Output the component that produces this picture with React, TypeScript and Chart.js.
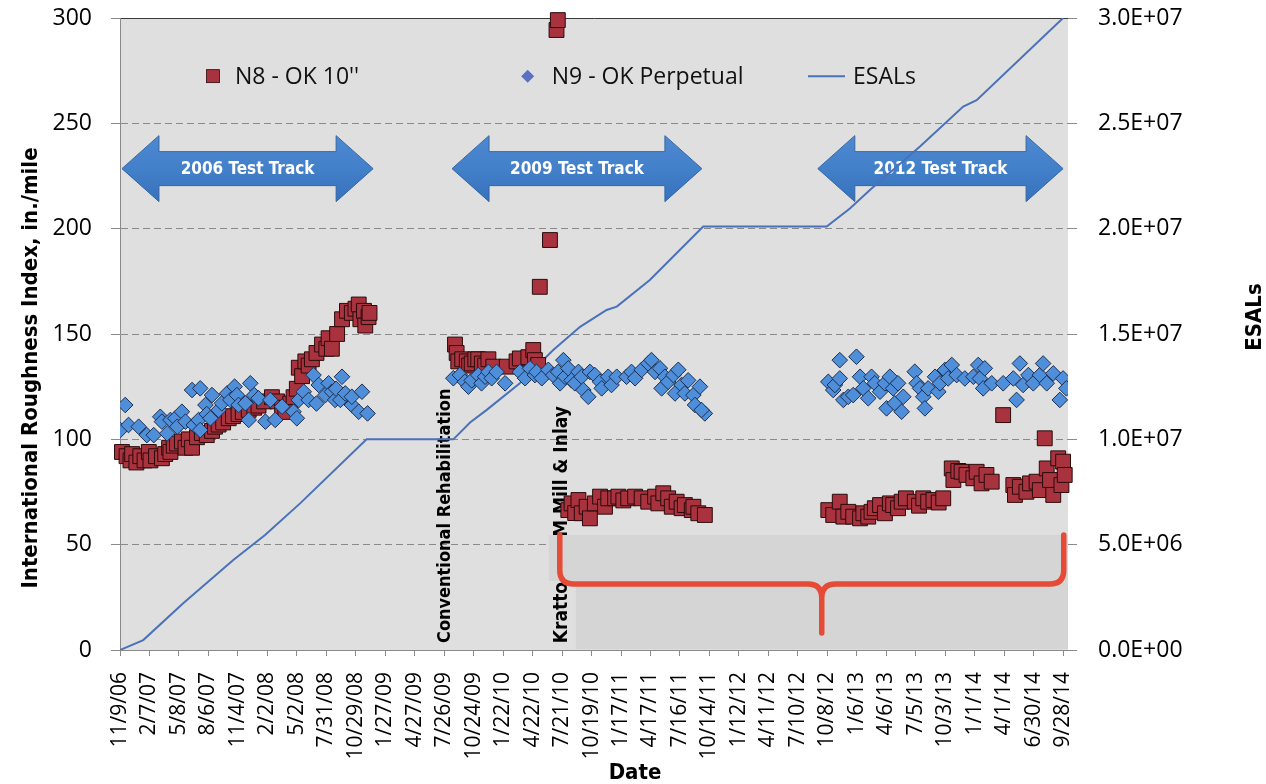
import React, { useEffect, useRef } from 'react';
import { Chart, registerables } from 'chart.js';

Chart.register(...registerables);

// ---------- DATA ----------
// x values are days since 11/9/06 (first axis label)
const xTickLabels = [
  '11/9/06', '2/7/07', '5/8/07', '8/6/07', '11/4/07', '2/2/08', '5/2/08', '7/31/08', '10/29/08',
  '1/27/09', '4/27/09', '7/26/09', '10/24/09', '1/22/10', '4/22/10', '7/21/10', '10/19/10',
  '1/17/11', '4/17/11', '7/16/11', '10/14/11', '1/12/12', '4/11/12', '7/10/12', '10/8/12',
  '1/6/13', '4/6/13', '7/5/13', '10/3/13', '1/1/14', '4/1/14', '6/30/14', '9/28/14',
];
const tickStepDays = 90;
const axisMaxDay = 2895;
const iriTicks = { min: 0, max: 300, step: 50 };
const esalTicks = { min: 0, max: 30000000, step: 5000000 };

const esalDays = [0, 71, 193, 346, 443, 550, 753, 1018, 1069, 1120, 1221, 1323, 1405, 1486, 1517, 1618, 1781, 2158, 2229, 2290, 2443, 2575, 2616, 2880];
const esalValues = [0, 470000, 2220000, 4270000, 5460000, 6960000, 10000000, 10000000, 10800000, 11400000, 12660000, 14240000, 15340000, 16140000, 16300000, 17560000, 20100000, 20100000, 20960000, 21830000, 23900000, 25800000, 26100000, 30000000];

const n8Days = [
  6, 20, 32, 37, 50, 62, 75, 88, 93, 110, 128, 138, 150, 154, 164, 174, 189, 200, 210, 220,
  235, 250, 265, 281, 290, 301, 315, 332, 345, 362, 375, 393, 410, 423, 440, 464, 480, 495, 505, 520,
  530, 540, 546, 556, 566, 576, 586, 600, 617, 630, 637, 647, 663, 678, 693, 708, 719, 729, 734, 745,
  749, 759, 762,
  1023, 1028, 1033, 1045, 1059, 1066, 1074, 1085, 1094, 1105, 1115, 1125, 1140, 1181, 1211, 1221,
  1247, 1262, 1267, 1277, 1282, 1313, 1333, 1337,
  1369, 1379, 1390, 1400, 1410, 1425, 1435, 1450, 1466, 1481, 1491, 1512, 1522, 1537, 1552, 1573,
  1593, 1613, 1634, 1644, 1659, 1674, 1685, 1700, 1715, 1725, 1746, 1751, 1766, 1786,
  2163, 2178, 2198, 2209, 2224, 2239, 2260, 2270, 2285, 2295, 2305, 2321, 2336, 2351, 2361, 2376,
  2387, 2400, 2427, 2440, 2453, 2468, 2484, 2500, 2514, 2540, 2545, 2560, 2570, 2585, 2606, 2616,
  2631, 2646, 2662, 2697, 2728, 2733, 2748, 2768, 2779, 2799, 2809, 2824, 2830, 2840, 2850, 2865,
  2875, 2880, 2885,
];
const n8Iri = [
  94, 92, 90, 93, 89, 92, 90, 94, 90, 92, 91, 93, 96, 94, 97, 98, 99, 96, 100, 96,
  101, 103, 102, 104, 106, 107, 108, 110, 111, 112, 113, 114, 115, 116, 118, 120, 118, 115, 113, 117,
  120, 124, 134, 130, 137, 135, 138, 141, 145, 143, 148, 143, 150, 157, 161, 160, 162, 164, 157, 161,
  154, 158, 160,
  145, 141, 137, 138, 137, 135, 136, 138, 138, 136, 135, 138, 134.5, 134.5, 137, 138.4,
  139, 142.4, 137.6, 135.3, 172.4, 194.6, 294.3, 299,
  66.4, 69.6, 65, 71.2, 64.9, 68, 62.5, 69.6, 72.8, 68, 72, 72, 72.8, 71, 72, 72.8,
  72, 70.4, 72.8, 69.6, 74.4, 72, 68, 70.4, 67.3, 68.8, 66.4, 68, 64.9, 64.1,
  66.4, 64.1, 70.4, 63.3, 65.6, 63.3, 62.5, 64.9, 63.3, 65.6, 67.3, 68.8, 64.9, 69.6, 68.8, 67.3,
  70.4, 72, 70.4, 68.5, 72, 70.4, 71.2, 70, 72, 86.2, 80.7, 85, 84.6, 83.1, 81.5, 84.6,
  79.1, 83.1, 79.9, 111.5, 78.3, 73.6, 77.5, 75.1, 79.1, 79.9, 75.9, 100.5, 86.2, 80.7, 73.6, 91,
  78.3, 89.4, 83.1,
];

const n9Days = [
  1, 16, 26, 57, 82, 103, 123, 128, 144, 154, 169, 175, 189, 200, 220, 225, 240, 245, 245, 261,
  265, 276, 281, 301, 311, 327, 337, 350, 357, 362, 383, 393, 398, 410, 423, 444, 459, 474, 495, 530,
  540, 546, 561, 576, 591, 600, 607, 627, 637, 647, 657, 660, 673, 678, 688, 708, 708, 729, 739, 756,
  1018, 1038, 1053, 1064, 1074, 1094, 1104, 1115, 1125, 1135, 1150, 1176, 1221, 1237, 1252, 1267,
  1272, 1288, 1308, 1323, 1338, 1354, 1344, 1359, 1369, 1379, 1389, 1400, 1410, 1415, 1430, 1435,
  1450, 1466, 1471, 1491, 1501, 1517, 1547, 1562, 1573, 1593, 1613, 1623, 1634, 1649, 1654, 1664,
  1674, 1690, 1695, 1705, 1715, 1725, 1735, 1751, 1771, 1756, 1786, 1776,
  2163, 2178, 2183, 2198, 2198, 2209, 2224, 2239, 2249, 2260, 2270, 2285, 2295, 2305, 2321, 2336,
  2341, 2351, 2361, 2366, 2376, 2387, 2392, 2427, 2433, 2443, 2453, 2458, 2468, 2489, 2499, 2504,
  2519, 2529, 2540, 2555, 2580, 2606, 2621, 2626, 2636, 2641, 2662, 2697, 2728, 2738, 2748, 2758,
  2774, 2789, 2809, 2819, 2830, 2850, 2870, 2880, 2890,
];
const n9Iri = [
  104.4, 116.3, 106.8, 106, 102, 102, 110.7, 108.4, 102.8, 109.2, 110, 106, 113.1, 108.4, 123.4, 106.8, 109.2, 124.2, 104.4, 116.3,
  112, 110, 121, 113.9, 117.1, 121.8, 118.7, 125, 121, 116.3, 117.1, 109.2, 126.6, 121, 119.5, 108.4, 118.7, 109.2, 115.5, 113.1,
  110, 118.7, 122.6, 118.7, 130.5, 117, 125.8, 121, 126.6, 122.6, 118.7, 124, 118.7, 129.7, 121.8, 116.3, 120.2, 113.1, 122.6, 112.3,
  129, 130.5, 127.3, 125, 128, 130.5, 126.6, 129.7, 132, 129, 132, 126.6, 132, 129, 133.7, 130.5,
  132, 129, 133, 130.5, 132, 137.6, 126.6, 129.7, 133.7, 128, 126.6, 132, 129.7, 123.4, 120.2, 132,
  130.5, 127.3, 124.2, 129.7, 125.8, 129.7, 129.7, 132, 129, 133, 136, 137.6, 132, 133.7, 124.2, 129.7,
  127.3, 130.5, 121.8, 133, 125.8, 121.8, 128, 121, 125, 116.3, 112.3, 113.9,
  127.3, 123.4, 125.8, 137.6, 128.9, 118.7, 120.2, 121, 139.2, 129.7, 124.2, 119.5, 129.7, 126.6, 122.6, 126.6,
  114.7, 129.7, 124.2, 117.1, 126.6, 113.1, 120.2, 132.1, 126.6, 124.2, 120.2, 114.7, 124.2, 129.7, 122.6, 126.6,
  132.9, 128.9, 135.3, 130.5, 128.9, 129.7, 135.3, 128.9, 124.2, 133.7, 126.6, 126.6, 128.9, 118.7, 136, 125.8,
  130.5, 126.6, 130.5, 136, 126.6, 131.3, 118.7, 128.9, 124.2,
];

// annotations (in data units)
const trackArrows = [
  { label: '2006 Test Track', fromDay: 6, toDay: 773 },
  { label: '2009 Test Track', fromDay: 1014, toDay: 1777 },
  { label: '2012 Test Track', fromDay: 2131, toDay: 2880 },
];
const arrowIri = 228.5;
const rehabNote = { label: 'Conventional Rehabilitation', day: 992 };
const inlayNote = { label: 'Kratton HPM Mill & Inlay', day: 1350, visibleStart: 'Kratto', hiddenEnd: 'Kratton HP' };
const bracketDays = { left: 1343, mid: 2143, right: 2882 };
const bracketIri = { top: 54.6, bar: 31.3, tip: 8.1 };

const legendItems = [
  { label: "N8 - OK 10''", kind: 'rect', day: 284 },
  { label: 'N9 - OK Perpetual', kind: 'rectRot', day: 1245 },
  { label: 'ESALs', kind: 'line', day: 2101 },
];
const legendIri = 272.4;

// ---------- STYLE ----------
const RED = '#a8323e';
const RED_EDGE = '#2a0b0b';
const BLUE = '#4f8ed8';
const BLUE_EDGE = '#1d2f52';
const LINE = '#4a72b8';
const GRID = '#8a8a8a';
const AXIS = '#8a8a8a';
const PLOT_BG = '#dfdfdf';
const TICK_FONT = "'Open Sans', 'DejaVu Sans', sans-serif";
const TITLE_FONT = "'Liberation Sans Narrow', 'DejaVu Sans Condensed', 'Liberation Sans', sans-serif";
const NOTE_FONT = `bold 18px ${TITLE_FONT}`;
const INLAY_FONT = `bold 19px ${TITLE_FONT}`;

const toPoints = (days: number[], vals: number[]) => days.map((d, i) => ({ x: d, y: vals[i] }));

const sci = (v: number) => {
  if (v === 0) return '0.0E+00';
  const e = Math.floor(Math.log10(v) + 1e-9);
  const m = v / Math.pow(10, e);
  return `${m.toFixed(1)}E+${String(e).padStart(2, '0')}`;
};

// geometry of the inlay note / gray patch so the hidden part lines up
function inlayGeometry(chart: any) {
  const { ctx, scales } = chart;
  const ys = scales.y;
  const yt = ys.getPixelForValue(bracketIri.top);
  ctx.save();
  ctx.font = INLAY_FONT;
  const wHidden = ctx.measureText(inlayNote.hiddenEnd).width;
  const wVisible = ctx.measureText(inlayNote.visibleStart).width;
  ctx.restore();
  const textBottom = Math.min(yt + wHidden + 2, ys.getPixelForValue(0) - 4);
  const patchStepY = textBottom - wVisible - 1;
  return { yt, textBottom, patchStepY };
}

function drawVerticalText(ctx: any, label: string, x: number, yBottom: number, font: string) {
  ctx.save();
  ctx.translate(x, yBottom);
  ctx.rotate(-Math.PI / 2);
  ctx.fillStyle = '#000';
  ctx.font = font;
  ctx.textAlign = 'left';
  ctx.textBaseline = 'middle';
  ctx.fillText(label, 0, 0);
  ctx.restore();
}

const decorPlugin = {
  id: 'decor',
  beforeDraw(chart: any) {
    const { ctx, chartArea: a } = chart;
    ctx.save();
    ctx.fillStyle = PLOT_BG;
    ctx.fillRect(a.left, a.top, a.right - a.left, a.bottom - a.top);
    ctx.restore();
  },
  beforeDatasetsDraw(chart: any) {
    const { ctx, scales } = chart;
    const xs = scales.x;
    const ys = scales.y;
    // arrows
    const yc = ys.getPixelForValue(arrowIri);
    const headLen = 37, headHalf = 33, shaftHalf = 17;
    trackArrows.forEach((ar) => {
      const x1 = xs.getPixelForValue(ar.fromDay);
      const x2 = xs.getPixelForValue(ar.toDay);
      ctx.save();
      ctx.beginPath();
      ctx.moveTo(x1, yc);
      ctx.lineTo(x1 + headLen, yc - headHalf);
      ctx.lineTo(x1 + headLen, yc - shaftHalf);
      ctx.lineTo(x2 - headLen, yc - shaftHalf);
      ctx.lineTo(x2 - headLen, yc - headHalf);
      ctx.lineTo(x2, yc);
      ctx.lineTo(x2 - headLen, yc + headHalf);
      ctx.lineTo(x2 - headLen, yc + shaftHalf);
      ctx.lineTo(x1 + headLen, yc + shaftHalf);
      ctx.lineTo(x1 + headLen, yc + headHalf);
      ctx.closePath();
      const g = ctx.createLinearGradient(0, yc - headHalf, 0, yc + headHalf);
      g.addColorStop(0, '#4e89d1');
      g.addColorStop(0.5, '#4380ca');
      g.addColorStop(1, '#3771bb');
      ctx.fillStyle = g;
      ctx.fill();
      ctx.strokeStyle = '#3566a6';
      ctx.lineWidth = 1;
      ctx.stroke();
      ctx.fillStyle = '#ffffff';
      ctx.font = `bold 17px ${TITLE_FONT}`;
      ctx.textAlign = 'center';
      ctx.textBaseline = 'middle';
      ctx.fillText(ar.label, (x1 + x2) / 2, yc + 1);
      ctx.restore();
    });
    // vertical notes
    drawVerticalText(ctx, rehabNote.label, xs.getPixelForValue(rehabNote.day), ys.getPixelForValue(0) - 7, NOTE_FONT);
    const g = inlayGeometry(chart);
    drawVerticalText(ctx, inlayNote.label, xs.getPixelForValue(inlayNote.day), g.textBottom, INLAY_FONT);
  },
  afterDatasetsDraw(chart: any) {
    const { ctx, scales, chartArea: a } = chart;
    const xs = scales.x;
    const ys = scales.y;
    const xl = xs.getPixelForValue(bracketDays.left);
    const xm = xs.getPixelForValue(bracketDays.mid);
    const xr = xs.getPixelForValue(bracketDays.right);
    const yb = ys.getPixelForValue(bracketIri.bar);
    const ytip = ys.getPixelForValue(bracketIri.tip);
    const geo = inlayGeometry(chart);
    const yt = geo.yt;
    // gray patch behind the bracket
    ctx.save();
    ctx.fillStyle = '#d5d5d5';
    ctx.beginPath();
    ctx.moveTo(xl - 11, yt);
    ctx.lineTo(a.right, yt);
    ctx.lineTo(a.right, a.bottom - 1);
    ctx.lineTo(xl + 16, a.bottom - 1);
    ctx.lineTo(xl + 16, geo.patchStepY);
    ctx.lineTo(xl - 11, geo.patchStepY);
    ctx.closePath();
    ctx.fill();
    // red curly bracket
    const r = 14;
    ctx.strokeStyle = '#e64b35';
    ctx.lineWidth = 5.5;
    ctx.lineCap = 'round';
    ctx.lineJoin = 'round';
    ctx.beginPath();
    ctx.moveTo(xl, yt);
    ctx.lineTo(xl, yb - r);
    ctx.quadraticCurveTo(xl, yb, xl + r, yb);
    ctx.lineTo(xm - r, yb);
    ctx.quadraticCurveTo(xm, yb, xm, yb + r);
    ctx.lineTo(xm, ytip);
    ctx.moveTo(xm, yb + r);
    ctx.quadraticCurveTo(xm, yb, xm + r, yb);
    ctx.lineTo(xr - r, yb);
    ctx.quadraticCurveTo(xr, yb, xr, yb - r);
    ctx.lineTo(xr, yt);
    ctx.stroke();
    ctx.restore();
  },
  afterDraw(chart: any) {
    const { ctx, scales, chartArea: a, width, height } = chart;
    const xs = scales.x;
    const ys = scales.y;
    // legend
    const ly = ys.getPixelForValue(legendIri);
    ctx.save();
    ctx.font = `23px ${TICK_FONT}`;
    ctx.textBaseline = 'middle';
    ctx.textAlign = 'left';
    legendItems.forEach((it) => {
      const x = xs.getPixelForValue(it.day);
      let tx = x;
      if (it.kind === 'rect') {
        ctx.fillStyle = RED;
        ctx.fillRect(x - 6.5, ly - 6.5, 13, 13);
        ctx.strokeStyle = RED_EDGE;
        ctx.lineWidth = 0.8;
        ctx.strokeRect(x - 6.5, ly - 6.5, 13, 13);
        tx = x + 22;
      } else if (it.kind === 'rectRot') {
        ctx.beginPath();
        ctx.moveTo(x, ly - 6.5);
        ctx.lineTo(x + 6.5, ly);
        ctx.lineTo(x, ly + 6.5);
        ctx.lineTo(x - 6.5, ly);
        ctx.closePath();
        ctx.fillStyle = '#5b6fc4';
        ctx.fill();
        tx = x + 24;
      } else {
        ctx.strokeStyle = LINE;
        ctx.lineWidth = 2;
        ctx.beginPath();
        ctx.moveTo(x, ly);
        ctx.lineTo(x + 37, ly);
        ctx.stroke();
        tx = x + 45;
      }
      ctx.fillStyle = '#111';
      ctx.fillText(it.label, tx, ly + 1);
    });
    ctx.restore();

    // axis titles
    ctx.save();
    ctx.fillStyle = '#000';
    ctx.font = `bold 22px ${TITLE_FONT}`;
    ctx.textAlign = 'center';
    ctx.textBaseline = 'middle';
    ctx.save();
    ctx.translate(a.left - 89, (a.top + a.bottom) / 2 + 34);
    ctx.rotate(-Math.PI / 2);
    ctx.fillText('International Roughness Index, in./mile', 0, 0);
    ctx.restore();
    ctx.save();
    ctx.translate(width - 11, (a.top + a.bottom) / 2 - 17);
    ctx.rotate(-Math.PI / 2);
    ctx.fillText('ESALs', 0, 0);
    ctx.restore();
    ctx.fillText('Date', (a.left + a.right) / 2 + 41, height - 11);
    ctx.restore();
  },
};

const zeroVerticalPadding = (s: any, width: number) => {
  s.width = width;
  s.paddingTop = 0;
  s.paddingBottom = 0;
};

export default function App() {
  const canvasRef = useRef<HTMLCanvasElement | null>(null);

  useEffect(() => {
    if (!canvasRef.current) return;
    Chart.defaults.font.family = TICK_FONT;
    const chart = new Chart(canvasRef.current, {
      type: 'scatter',
      data: {
        datasets: [
          {
            label: "N8 - OK 10''",
            data: toPoints(n8Days, n8Iri),
            pointStyle: 'rect',
            pointRadius: 10.5,
            backgroundColor: RED,
            borderColor: RED_EDGE,
            borderWidth: 1,
            yAxisID: 'y',
            order: 2,
            clip: false,
          } as any,
          {
            label: 'N9 - OK Perpetual',
            data: toPoints(n9Days, n9Iri),
            pointStyle: 'rectRot',
            pointRadius: 7.8,
            backgroundColor: BLUE,
            borderColor: BLUE_EDGE,
            borderWidth: 1,
            yAxisID: 'y',
            order: 1,
          } as any,
          {
            label: 'ESALs',
            data: toPoints(esalDays, esalValues),
            showLine: true,
            pointRadius: 0,
            borderColor: LINE,
            borderWidth: 2,
            fill: false,
            yAxisID: 'y2',
            order: 3,
          } as any,
        ],
      },
      options: {
        responsive: false,
        animation: false,
        events: [],
        layout: { autoPadding: false, padding: { top: 18, left: 0, right: 0, bottom: 0 } },
        plugins: { legend: { display: false }, tooltip: { enabled: false } },
        scales: {
          x: {
            type: 'linear',
            position: 'bottom',
            min: 0,
            max: axisMaxDay,
            afterBuildTicks: (s: any) => {
              s.ticks = xTickLabels.map((_, i) => ({ value: i * tickStepDays }));
            },
            afterFit: (s: any) => { s.height = 134; s.paddingLeft = 0; s.paddingRight = 0; },
            ticks: {
              autoSkip: false,
              maxRotation: 90,
              minRotation: 90,
              padding: 16,
              color: '#000',
              font: { size: 21 },
              callback: (v: any) => xTickLabels[Math.round(Number(v) / tickStepDays)],
            },
            grid: { drawOnChartArea: false, drawTicks: true, tickLength: 6, color: GRID },
            border: { display: true, color: AXIS },
          },
          y: {
            position: 'left',
            min: iriTicks.min,
            max: iriTicks.max,
            afterFit: (s: any) => zeroVerticalPadding(s, 120),
            ticks: { stepSize: iriTicks.step, padding: 19, color: '#000', font: { size: 23 } },
            grid: {
              color: (c: any) => (c.tick && c.tick.value === iriTicks.max ? '#3a3a3a' : GRID),
              drawTicks: true,
              tickLength: 9,
              tickColor: GRID,
            },
            border: {
              display: true,
              color: AXIS,
              dash: (c: any) => (c.tick && c.tick.value === iriTicks.max ? [] : [7, 4]),
            },
          },
          y2: {
            position: 'right',
            min: esalTicks.min,
            max: esalTicks.max,
            afterFit: (s: any) => zeroVerticalPadding(s, 198),
            ticks: { stepSize: esalTicks.step, padding: 21, color: '#000', font: { size: 23 }, callback: (v: any) => sci(Number(v)) },
            grid: { drawOnChartArea: false, drawTicks: true, tickLength: 9, color: GRID },
            border: { display: false },
          },
        },
      } as any,
      plugins: [decorPlugin],
    });
    return () => chart.destroy();
  }, []);

  return (
    <div style={{ position: 'fixed', left: 0, top: 0, width: 1266, height: 784, background: '#fff' }}>
      <canvas ref={canvasRef} width={1266} height={784} style={{ display: 'block' }} />
    </div>
  );
}
